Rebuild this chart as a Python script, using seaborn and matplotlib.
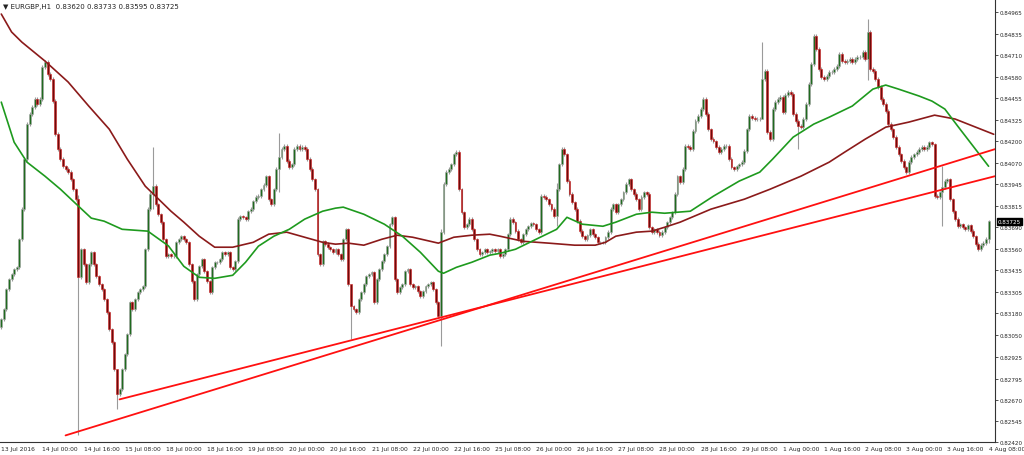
import numpy as np
import pandas as pd
import matplotlib
matplotlib.use("Agg")
import matplotlib.pyplot as plt
import seaborn as sns

# closes in 1e-5 price units
closes = [83146,83205,83323,83382,83412,83442,83453,83619,83797,84093,84300,84359,84401,84448,84418,84448,
84637,84667,84596,84566,84436,84241,84152,84093,84051,84034,84016,83974,83915,83856,83394,83560,
83471,83365,83471,83542,83471,83400,83353,83323,83264,83186,83086,83010,82850,82702,82731,82850,
82938,83057,83246,83205,83264,83305,83323,83341,83560,83797,83886,83933,83826,83767,83720,83619,
83519,83530,83519,83519,83601,83619,83637,83619,83601,83471,83371,83264,83412,83459,83501,83430,
83371,83305,83453,83483,83483,83501,83542,83530,83542,83453,83442,83489,83738,83755,83749,83738,
83785,83797,83844,83868,83874,83915,83939,83992,83856,83826,83915,84034,84105,84152,84170,84081,
84045,84063,84152,84170,84152,84164,84152,84093,84034,83974,83915,83530,83471,83607,83590,83572,
83560,83542,83560,83530,83501,83619,83678,83353,83223,83205,83186,83264,83305,83353,83400,83412,
83424,83246,83382,83442,83489,83530,83578,83708,83749,83382,83305,83335,83353,83430,83442,83353,
83335,83341,83311,83282,83311,83341,83353,83365,83323,83246,83163,83661,83945,84016,84034,84063,
84122,84134,83915,83779,83690,83708,83738,83678,83619,83560,83530,83542,83560,83542,83548,83560,
83548,83560,83519,83530,83560,83649,83738,83720,83667,83619,83601,83649,83678,83696,83714,83708,
83678,83661,83874,83868,83856,83826,83797,83755,83915,84063,84152,84122,83963,83886,83838,83797,
83726,83667,83637,83619,83643,83678,83649,83631,83601,83601,83601,83631,83661,83797,83826,83779,
83826,83856,83897,83945,83974,83915,83886,83856,83797,83868,83897,83886,83690,83661,83678,83661,
83643,83661,83690,83720,83749,83779,83886,83992,83957,84034,84170,84164,84152,84259,84318,84347,
84389,84448,84359,84270,84211,84199,84164,84134,84152,84170,84170,84093,84045,84034,84051,84063,
84075,84140,84270,84347,84336,84330,84330,84330,84566,84614,84253,84211,84389,84430,84448,84460,
84371,84472,84489,84478,84359,84318,84288,84282,84330,84418,84537,84655,84821,84744,84626,84578,
84566,84584,84608,84608,84626,84643,84714,84673,84667,84673,84685,84667,84685,84697,84697,84726,
84685,84845,84626,84614,84566,84519,84448,84418,84377,84300,84270,84223,84164,84122,84081,84045,
84016,84075,84105,84122,84134,84152,84164,84152,84164,84193,84181,83874,83868,83897,83927,83963,
83974,83856,83785,83738,83696,83708,83690,83678,83702,83667,83637,83590,83560,83584,83596,83620,
83725]
first_open = 83100
# notable wick extremes: bar -> (high, low)
big_wicks = {30: (83880, 82459), 45: (82760, 82613), 59: (84164, 83800), 136: (83260, 83027),
             171: (83680, 82986), 296: (84785, 84380), 337: (84922, 84560), 384: (83733, 83595),
             108: (84250, 83900), 216: (83950, 83700), 310: (84330, 84150), 366: (84050, 83700)}
wick_pad = 10

slow_ma_bar = [0,4,8,17,26,34,42,49,56,66,71,77,83,90,98,104,111,118,125,130,135,141,148,154,160,170,176,
               183,190,194,203,213,223,231,235,239,247,253,258,264,276,289,299,311,322,328,336,344,353,
               363,371,386]
slow_ma = [84951,84845,84785,84673,84549,84407,84270,84093,83933,83785,83720,83637,83572,83572,83601,83649,
           83661,83631,83601,83590,83596,83584,83619,83643,83631,83596,83631,83643,83649,83637,83607,
           83596,83584,83584,83601,83637,83661,83667,83690,83720,83797,83856,83915,83992,84075,84134,
           84211,84282,84312,84353,84330,84240]
fast_ma_bar = [0,5,10,17,23,30,35,40,47,57,65,71,77,83,90,95,100,106,112,118,125,130,133,141,149,156,163,
               170,172,177,183,190,194,200,208,216,220,226,234,239,247,253,258,268,277,287,295,300,308,
               316,322,331,339,344,349,357,362,367,372,384]
fast_ma = [84430,84193,84075,83992,83915,83815,83744,83726,83678,83667,83580,83459,83394,83388,83406,
           83483,83578,83637,83678,83738,83785,83803,83809,83767,83708,83637,83542,83430,83418,83453,
           83483,83525,83536,83560,83619,83678,83749,83708,83696,83720,83767,83779,83773,83785,83874,
           83963,84016,84093,84223,84300,84341,84407,84507,84531,84507,84466,84436,84389,84288,84051]
trend1_bar = [25, 386.5]; trend1 = [82459, 84152]
trend2_bar = [46, 386.5]; trend2 = [82672, 83992]

xlabels = ["13 Jul 2016","14 Jul 00:00","14 Jul 16:00","15 Jul 08:00","18 Jul 00:00","18 Jul 16:00",
           "19 Jul 08:00","20 Jul 00:00","20 Jul 16:00","21 Jul 08:00","22 Jul 00:00","22 Jul 16:00",
           "25 Jul 08:00","26 Jul 00:00","26 Jul 16:00","27 Jul 08:00","28 Jul 00:00","28 Jul 16:00",
           "29 Jul 08:00","1 Aug 00:00","1 Aug 16:00","2 Aug 08:00","3 Aug 00:00","3 Aug 16:00","4 Aug 08:00"]
yticks = [0.84965,0.84835,0.84710,0.84580,0.84455,0.84325,0.84200,0.84070,0.83945,0.83815,0.83690,
          0.83560,0.83435,0.83305,0.83180,0.83050,0.82925,0.82795,0.82670,0.82545,0.82420]
header = "▼ EURGBP,H1  0.83620 0.83733 0.83595 0.83725"
last_price = 0.83725

sns.set_style("white")
plt.rcParams['font.family'] = ['DejaVu Sans']
fig = plt.figure(figsize=(10.24, 4.56), dpi=100)
ax = fig.add_axes([0, 13/456, 995/1024, 443/456])

c = np.array(closes) / 1e5
o = np.concatenate([[first_open / 1e5], c[:-1]])
o[-1] = 0.83620
n = len(c)
idx = np.arange(n)
hi = np.maximum(o, c) + wick_pad / 1e5
lo = np.minimum(o, c) - wick_pad / 1e5
for b, (h, l) in big_wicks.items():
    hi[b] = h / 1e5; lo[b] = l / 1e5
ax.vlines(idx, lo, hi, color="#9a9a9a", lw=0.8, zorder=2)
bull = c >= o
body = np.abs(c - o)
body = np.where(body < 0.00002, 0.00002, body)
ax.bar(idx[bull], body[bull], bottom=np.minimum(o, c)[bull], width=0.75, color="#1f6b1f",
       edgecolor="#a8a8a8", linewidth=0.4, zorder=3)
ax.bar(idx[~bull], body[~bull], bottom=np.minimum(o, c)[~bull], width=0.75, color="#6e0a0a",
       edgecolor="#d02020", linewidth=0.4, zorder=3)

sns.lineplot(x=slow_ma_bar, y=np.array(slow_ma) / 1e5, ax=ax, color="#8b1a1a", lw=1.2, zorder=4)
sns.lineplot(x=fast_ma_bar, y=np.array(fast_ma) / 1e5, ax=ax, color="#1e9a1e", lw=1.2, zorder=4)
ax.plot(trend1_bar, np.array(trend1) / 1e5, color="#ff1010", lw=1.3, zorder=5)
ax.plot(trend2_bar, np.array(trend2) / 1e5, color="#ff1010", lw=1.3, zorder=5)

ax.set_xlim(-0.5, 386.5)
ax.set_ylim(0.82420, 0.85040)
ax.set_xticks(np.arange(0, 16 * len(xlabels), 16))
ax.set_xticklabels(xlabels, fontsize=4.3, ha="left")
ax.yaxis.tick_right()
ax.set_yticks(yticks)
ax.set_yticklabels([f"{v:.5f}" for v in yticks], fontsize=4.1)
ax.tick_params(axis="both", length=2, width=0.6, color="#333333", pad=1, direction="out")
for s in ["top", "left"]:
    ax.spines[s].set_visible(False)
for s in ["right", "bottom"]:
    ax.spines[s].set_color("#333333"); ax.spines[s].set_linewidth(0.8)
ax.text(1.003, last_price, f"{last_price:.5f}", transform=ax.get_yaxis_transform(), fontsize=4.1,
        color="white", va="center", ha="left",
        bbox=dict(boxstyle="square,pad=0.15", fc="black", ec="black"), zorder=10, clip_on=False)
fig.text(0.003, 0.992, header, fontsize=5, va="top", ha="left", color="#222222")
fig.savefig("out.png", dpi=100)
